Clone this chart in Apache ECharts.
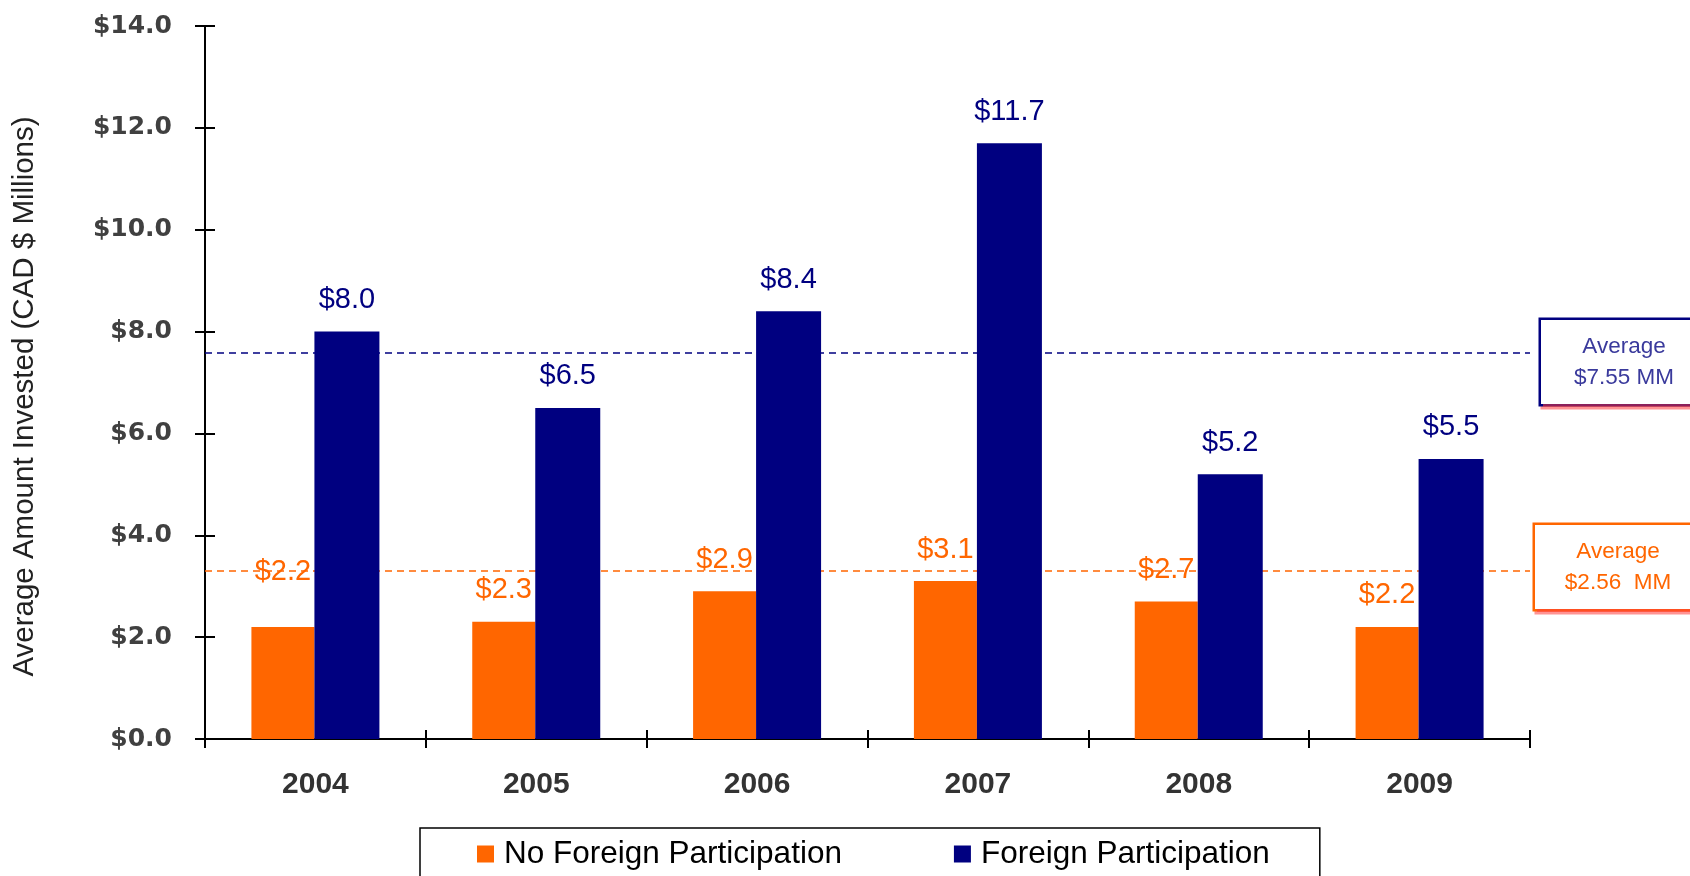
<!DOCTYPE html>
<html>
<head>
<meta charset="utf-8">
<script src="https://cdn.jsdelivr.net/npm/echarts@6/dist/echarts.min.js"></script>
<style>
  html, body { margin: 0; padding: 0; background: #fff; }
  #chart { width: 1690px; height: 876px; }
</style>
</head>
<body>
<div id="chart"></div>
<script>
// data
const years = ['2004', '2005', '2006', '2007', '2008', '2009'];
const noForeign = [2.2, 2.3, 2.9, 3.1, 2.7, 2.2];
const foreign = [8.0, 6.5, 8.4, 11.7, 5.2, 5.5];
const yTicks = [0, 2, 4, 6, 8, 10, 12, 14];
// average lines as drawn, and the text in their boxes
const avgNoForeignLevel = 3.3;
const avgForeignLevel = 7.58;
const avgNoForeignText = '$2.56  MM';
const avgForeignText = '$7.55 MM';

const ORANGE = '#FF6600';
const NAVY = '#000080';
const FONT = '"Liberation Sans", Arial, sans-serif';

const chart = echarts.init(document.getElementById('chart'));

const money = v => '$' + v.toFixed(1);

// the first orange label sits higher than the rest
const orangeData = noForeign.map((v, i) => (i === 0
  ? { value: v, label: { distance: 40 } }
  : v));

// box to the right of the plot, centred on its own anchor
const avgBox = (color, border, text, dist, dy) => ({
  show: true,
  position: 'end',
  distance: dist,
  offset: [0, dy],
  formatter: 'Average\n' + text,
  color: color,
  fontFamily: FONT,
  fontSize: 22.5,
  lineHeight: 31,
  align: 'center',
  width: 150,
  padding: [11, 8, 11, 8],
  backgroundColor: '#fff',
  borderColor: border,
  borderWidth: 2.5,
  shadowColor: 'rgba(255,60,60,0.55)',
  shadowOffsetY: 3,
  shadowOffsetX: 2,
  shadowBlur: 0
});

chart.setOption({
  animation: false,
  grid: { left: 205, right: 160, top: 26, bottom: 137 },
  legend: {
    left: 420,
    top: 828,
    padding: [10, 50, 40, 57],
    borderColor: '#000',
    borderWidth: 1.5,
    itemGap: 112,
    itemWidth: 17,
    itemHeight: 17,
    icon: 'rect',
    textStyle: { fontFamily: FONT, fontSize: 31.5, color: '#000', padding: [0, 0, 0, 5] },
    data: ['No Foreign Participation', 'Foreign Participation']
  },
  xAxis: [
    {
      type: 'category',
      data: years,
      position: 'bottom',
      axisLine: { lineStyle: { color: '#000', width: 2 } },
      axisTick: { show: true, length: 9, lineStyle: { color: '#000', width: 2 } },
      axisLabel: {
        margin: 31,
        fontFamily: FONT,
        fontWeight: 'bold',
        fontSize: 30,
        color: '#333'
      }
    },
    {
      // upper half of the crossing ticks
      type: 'category',
      data: years,
      position: 'bottom',
      axisLine: { show: false },
      axisTick: { show: true, inside: true, length: 9, lineStyle: { color: '#000', width: 2 } },
      axisLabel: { show: false }
    }
  ],
  yAxis: [
    {
      type: 'value',
      min: yTicks[0],
      max: yTicks[yTicks.length - 1],
      interval: 2,
      name: 'Average Amount Invested (CAD $ Millions)',
      nameLocation: 'middle',
      nameGap: 165,
      nameTextStyle: { fontFamily: FONT, fontSize: 29.5, color: '#222', padding: [0, 28, 0, 0] },
      axisLine: { show: true, lineStyle: { color: '#000', width: 2 } },
      axisTick: { show: true, length: 10, lineStyle: { color: '#000', width: 2 } },
      splitLine: { show: false },
      axisLabel: {
        margin: 33,
        formatter: money,
        fontFamily: '"DejaVu Sans", Verdana, sans-serif',
        fontWeight: 'bold',
        fontSize: 25,
        color: '#404040'
      }
    },
    {
      type: 'value',
      min: yTicks[0],
      max: yTicks[yTicks.length - 1],
      interval: 2,
      position: 'left',
      axisLine: { show: false },
      axisTick: { show: true, inside: true, length: 10, lineStyle: { color: '#000', width: 2 } },
      splitLine: { show: false },
      axisLabel: { show: false }
    }
  ],
  series: [
    {
      name: 'No Foreign Participation',
      type: 'bar',
      data: orangeData,
      barWidth: 63,
      barGap: '0%',
      itemStyle: { color: ORANGE },
      label: {
        show: true,
        position: 'top',
        distance: 17,
        formatter: p => money(p.value),
        fontFamily: FONT,
        fontSize: 29,
        color: ORANGE
      },
      markLine: {
        silent: true,
        z: 1,
        symbol: 'none',
        lineStyle: { color: ORANGE, type: [7, 5], width: 1.5 },
        label: avgBox(ORANGE, ORANGE, avgNoForeignText, 88, -4),
        data: [{ yAxis: avgNoForeignLevel }]
      }
    },
    {
      name: 'Foreign Participation',
      type: 'bar',
      data: foreign,
      barWidth: 65,
      barGap: '0%',
      itemStyle: { color: NAVY },
      label: {
        show: true,
        position: 'top',
        distance: 17,
        formatter: p => money(p.value),
        fontFamily: FONT,
        fontSize: 29,
        color: NAVY
      },
      markLine: {
        silent: true,
        z: 1,
        symbol: 'none',
        lineStyle: { color: NAVY, type: [7, 5], width: 1.5 },
        label: avgBox('#3a3a9c', NAVY, avgForeignText, 94, 9),
        data: [{ yAxis: avgForeignLevel }]
      }
    }
  ]
});
</script>
</body>
</html>
